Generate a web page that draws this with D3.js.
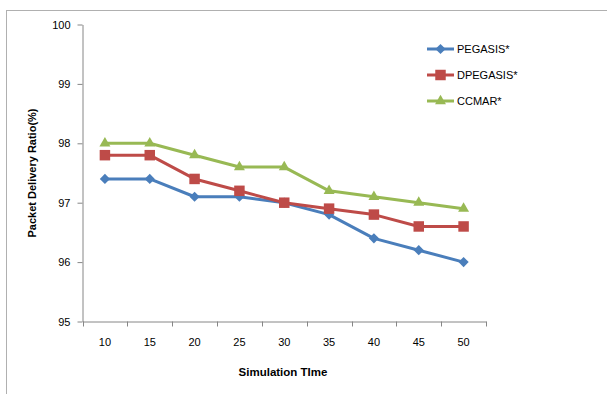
<!DOCTYPE html>
<html>
<head>
<meta charset="utf-8">
<script src="https://cdn.jsdelivr.net/npm/d3@7"></script>
<style>
  body { margin: 0; background: #fff; }
  svg { display: block; font-family: "Liberation Sans", Arial, sans-serif; }
</style>
</head>
<body>
<svg id="chart" width="607" height="394"></svg>
<script>
// data
const times = [10, 15, 20, 25, 30, 35, 40, 45, 50];
const pegasis = [97.4, 97.4, 97.1, 97.1, 97.0, 96.8, 96.4, 96.2, 96.0];
const dpegasis = [97.8, 97.8, 97.4, 97.2, 97.0, 96.9, 96.8, 96.6, 96.6];
const ccmar = [98.0, 98.0, 97.8, 97.6, 97.6, 97.2, 97.1, 97.0, 96.9];
const yTicks = [95, 96, 97, 98, 99, 100];

// diamond = square turned 45 degrees
const series = [
    { name: 'PEGASIS*', values: pegasis, color: '#4A7EBB', symbol: d3.symbolSquare, size: 52, rot: 45 },
    { name: 'DPEGASIS*', values: dpegasis, color: '#BE4B48', symbol: d3.symbolSquare, size: 110, rot: 0 },
    { name: 'CCMAR*', values: ccmar, color: '#98B954', symbol: d3.symbolTriangle, size: 52, rot: 0 }
];

const svg = d3.select('#chart');

// outer border of the chart object
svg.append('rect')
    .attr('x', 6.5).attr('y', 10.5)
    .attr('width', 620).attr('height', 400)
    .attr('fill', 'none')
    .attr('stroke', '#b0b0b0');

const plotLeft = 82.5, plotRight = 486, plotTop = 24.5, plotBottom = 321.5;

const x = d3.scaleBand().domain(times).range([plotLeft, plotRight]);
const y = d3.scaleLinear().domain([95, 100]).range([plotBottom, plotTop]);

// axes
const xAxis = svg.append('g')
    .attr('transform', 'translate(0,' + plotBottom + ')')
    .call(d3.axisBottom(x).tickSize(0).tickPadding(17));
xAxis.select('.domain').attr('stroke', '#868686');
xAxis.selectAll('text').attr('font-size', 11).attr('fill', '#000');

// tick marks between categories
svg.append('g').selectAll('line')
    .data(times.concat([null]))
    .join('line')
    .attr('x1', (d, i) => Math.round(plotLeft + i * x.bandwidth()) + 0.5)
    .attr('x2', (d, i) => Math.round(plotLeft + i * x.bandwidth()) + 0.5)
    .attr('y1', plotBottom)
    .attr('y2', plotBottom + 5)
    .attr('stroke', '#868686');

const yAxis = svg.append('g')
    .attr('transform', 'translate(' + plotLeft + ',0)')
    .call(d3.axisLeft(y).tickValues(yTicks).tickFormat(d3.format('d'))
        .tickSize(5).tickSizeOuter(0).tickPadding(7));
yAxis.select('.domain').attr('stroke', '#868686');
yAxis.selectAll('.tick line').attr('stroke', '#868686');
yAxis.selectAll('text').attr('font-size', 11).attr('fill', '#000');

// axis titles
svg.append('text')
    .attr('x', 283).attr('y', 376)
    .attr('text-anchor', 'middle')
    .attr('font-size', 11.5)
    .attr('font-weight', 'bold')
    .text('Simulation TIme');

svg.append('text')
    .attr('transform', 'translate(36,173) rotate(-90)')
    .attr('text-anchor', 'middle')
    .attr('font-size', 11)
    .attr('font-weight', 'bold')
    .text('Packet Delivery Ratio(%)');

// lines and markers
const cx = (d, i) => x(times[i]) + x.bandwidth() / 2;
const lineGenerator = d3.line()
    .x(cx)
    .y(d => y(d));

series.forEach(s => {
    const g = svg.append('g');
    g.append('path')
        .attr('d', lineGenerator(s.values))
        .attr('fill', 'none')
        .attr('stroke', s.color)
        .attr('stroke-width', 3)
        .attr('stroke-linejoin', 'round');
    g.selectAll('path.marker')
        .data(s.values)
        .join('path')
        .attr('class', 'marker')
        .attr('transform', (d, i) => 'translate(' + cx(d, i) + ',' + y(d) + ') rotate(' + s.rot + ')')
        .attr('d', d3.symbol().type(s.symbol).size(s.size))
        .attr('fill', s.color);
});

// legend
const legend = svg.append('g');
series.forEach((s, i) => {
    const ly = 49 + i * 26;
    legend.append('line')
        .attr('x1', 427).attr('x2', 454)
        .attr('y1', ly).attr('y2', ly)
        .attr('stroke', s.color)
        .attr('stroke-width', 3);
    legend.append('path')
        .attr('transform', 'translate(440.5,' + ly + ') rotate(' + s.rot + ')')
        .attr('d', d3.symbol().type(s.symbol).size(s.size))
        .attr('fill', s.color);
    legend.append('text')
        .attr('x', 457).attr('y', ly + 4)
        .attr('font-size', 11)
        .text(s.name);
});
</script>
</body>
</html>
